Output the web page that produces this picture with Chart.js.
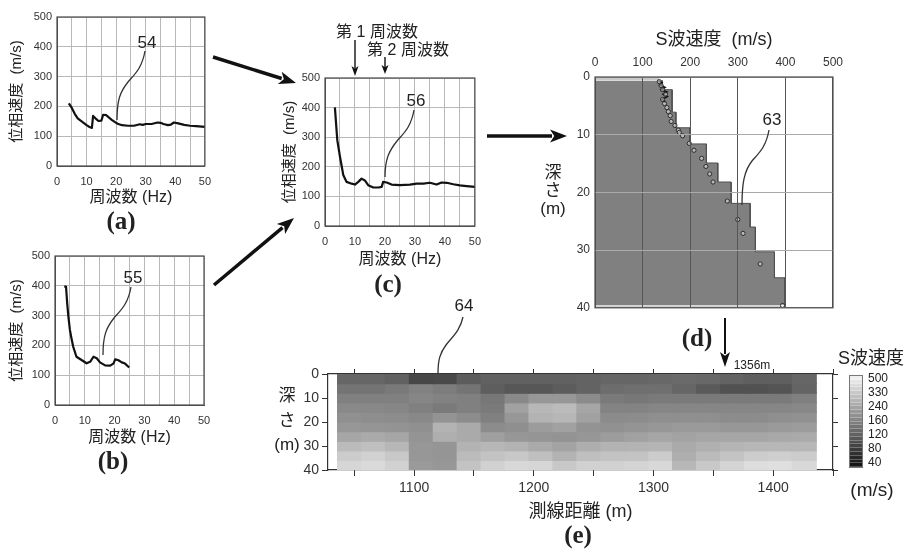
<!DOCTYPE html>
<html>
<head>
<meta charset="utf-8">
<script src="https://cdn.jsdelivr.net/npm/chart.js@4.4.1/dist/chart.umd.min.js"></script>
<style>
  body { margin: 0; background: #fff; }
  #page { position: relative; width: 913px; height: 557px; overflow: hidden;
          font-family: "Liberation Sans", "Noto Sans CJK JP", sans-serif; color: #222; }
  #page canvas { position: absolute; display: block; }
  .t { position: absolute; transform: translate(-50%, -50%); white-space: nowrap; line-height: 1; }
  .lbl { font-family: "Liberation Serif", "DejaVu Serif", serif; font-weight: bold; font-size: 25px; }
  #deco { position: absolute; left: 0; top: 0; }
  #cbar { position: absolute; left: 849px; top: 375px; width: 14px; height: 93px;
          display: flex; flex-direction: column; border: 1px solid #777; box-sizing: border-box; }
  #cbar div { flex: 1; border-bottom: 1px solid rgba(255,255,255,0.25); }
</style>
</head>
<body>
<div id="page">
  <canvas id="chartA" width="220" height="207" style="left:0;top:0"></canvas>
  <canvas id="chartB" width="220" height="207" style="left:0;top:240px"></canvas>
  <canvas id="chartC" width="225" height="209" style="left:265px;top:60px"></canvas>
  <canvas id="chartD" width="290" height="300" style="left:560px;top:20px"></canvas>
  <canvas id="chartE" width="545" height="165" style="left:300px;top:360px"></canvas>

  <svg id="deco" width="913" height="557"></svg>

  <!-- 注記 -->
  <div class="t" style="left:147px;top:42px;font-size:17px">54</div>
  <div class="t" style="left:133px;top:277px;font-size:17px">55</div>
  <div class="t" style="left:416px;top:100px;font-size:17px">56</div>
  <div class="t" style="left:772px;top:119px;font-size:17px">63</div>
  <div class="t" style="left:464px;top:305px;font-size:17px">64</div>
  <div class="t" style="left:752px;top:365px;font-size:12px">1356m</div>
  <div class="t" style="left:377px;top:32px;font-size:16px">第 1 周波数</div>
  <div class="t" style="left:408px;top:50px;font-size:16px">第 2 周波数</div>

  <div class="t lbl" style="left:121px;top:220px">(a)</div>
  <div class="t lbl" style="left:113px;top:460px">(b)</div>
  <div class="t lbl" style="left:388px;top:283px">(c)</div>
  <div class="t lbl" style="left:697px;top:337px">(d)</div>
  <div class="t lbl" style="left:578px;top:534px">(e)</div>

  <div class="t" style="left:553px;top:172px;font-size:17px">深</div>
  <div class="t" style="left:553px;top:190px;font-size:17px">さ</div>
  <div class="t" style="left:553px;top:208px;font-size:17px">(m)</div>

  <div class="t" style="left:287px;top:395px;font-size:17px">深</div>
  <div class="t" style="left:287px;top:420px;font-size:17px">さ</div>
  <div class="t" style="left:287px;top:444px;font-size:17px">(m)</div>

  <div class="t" style="left:871px;top:358px;font-size:18px">S波速度</div>
  <div class="t" style="left:872px;top:489px;font-size:19px">(m/s)</div>
  <div id="cbar"></div>
  <div id="cbarLabels"></div>
</div>

<script>
// ==================== データ ====================

// (a) 分散曲線 54
const freqA = [4, 5, 6, 7, 8, 9, 10, 11, 11.8, 12.2, 13, 14, 15, 15.6, 16.6, 17.5, 18.5, 19.5, 20.5, 22, 24, 26, 28, 29, 30, 32, 34, 35, 36, 37.5, 38.5, 39.5, 41, 43, 45, 47, 50];
const velA = [210, 195, 175, 160, 152, 145, 137, 131, 128, 168, 160, 151, 152, 172, 171, 163, 155, 148, 142, 137, 135, 135, 140, 138, 141, 141, 146, 145, 141, 137, 139, 146, 143, 138, 135, 134, 131];

// (b) 分散曲線 55
const freqB = [3.1, 3.7, 4.1, 4.5, 5.0, 5.5, 6.1, 7.2, 8.9, 10.6, 11.8, 12.9, 14.0, 15.1, 16.8, 18.5, 19.6, 20.2, 21.3, 22.4, 23.5, 24.9];
const velB = [397, 397, 340, 296, 252, 225, 196, 162, 151, 140, 145, 162, 157, 143, 133, 132, 139, 153, 150, 143, 139, 126];

// (c) 合成した分散曲線 56
const freqC = [3.3, 4.1, 5.0, 5.6, 6.1, 7.2, 8.9, 10, 11.1, 12.2, 13.3, 14.4, 16.1, 17.8, 18.9, 19.4, 20.6, 22.2, 25, 28.3, 30.6, 32.8, 35, 37.2, 38.9, 40.6, 42.8, 45, 47.2, 50];
const velC = [401, 290, 234, 200, 172, 149, 143, 140, 149, 160, 154, 138, 130, 130, 132, 149, 147, 140, 138, 140, 143, 143, 146, 140, 147, 146, 141, 137, 135, 132];

// (d) S波速度構造 63
const layerTop = [0.6, 2.2, 6.1, 8.8, 11.6, 14.9, 18.2, 21.9, 26.0, 30.3, 34.8];
const layerVs = [141, 162, 170, 199, 234, 258, 286, 326, 337, 377, 399];
const profileBase = 39.6;
const surfaceVs = 135;
const surfaceDepth = [0, 0.6];
const baseVs = 400;
const baseDepth = [39.6, 40];
const obsVs = [135, 139, 142, 148, 142, 146, 151, 154, 158, 160, 168, 175, 177, 184, 198, 208, 224, 233, 241, 248, 278, 300, 311, 347, 394];
const obsDepth = [0.8, 1.5, 2.2, 3.0, 3.9, 4.6, 5.3, 6.0, 6.7, 7.7, 8.4, 9.2, 9.6, 10.2, 11.5, 12.7, 14.1, 15.5, 16.8, 18.2, 21.5, 24.7, 27.1, 32.4, 39.6];
const traceVs = [133, 141, 136, 147, 139, 151, 143, 152, 141, 148];
const traceDepth = [0.6, 1.0, 1.4, 1.8, 2.2, 2.6, 3.0, 3.4, 3.9, 4.4];

// (e) S波速度断面 64
const distX = [1046, 1066, 1086, 1106, 1126, 1146, 1166, 1186, 1206, 1226, 1246, 1266, 1286, 1306, 1326, 1346, 1366, 1386, 1406, 1426];
const depthTop = [0, 4, 8, 12, 16, 20, 24, 28, 32, 36];
const cellDepth = 4;
const vsSection = [
  [130, 130, 125, 98, 100, 120, 125, 125, 125, 125, 127, 130, 130, 133, 135, 133, 127, 123, 123, 130],
  [145, 145, 150, 160, 155, 145, 122, 115, 115, 120, 127, 138, 140, 140, 130, 118, 108, 108, 112, 128],
  [158, 158, 158, 168, 160, 158, 148, 175, 205, 205, 178, 152, 148, 152, 152, 152, 152, 152, 152, 158],
  [175, 172, 168, 158, 152, 158, 152, 225, 275, 285, 235, 162, 162, 168, 168, 168, 168, 168, 168, 172],
  [190, 185, 180, 172, 195, 182, 158, 205, 265, 275, 225, 178, 182, 188, 188, 188, 182, 182, 188, 192],
  [205, 200, 195, 190, 265, 245, 182, 188, 215, 225, 195, 192, 198, 205, 210, 210, 205, 205, 210, 215],
  [235, 245, 235, 198, 255, 245, 220, 205, 200, 195, 205, 215, 225, 235, 230, 235, 235, 235, 240, 245],
  [285, 295, 275, 205, 200, 265, 275, 265, 245, 230, 255, 265, 265, 270, 245, 260, 270, 275, 275, 275],
  [325, 345, 315, 205, 200, 285, 305, 315, 295, 265, 295, 305, 305, 325, 255, 285, 305, 325, 335, 325],
  [365, 385, 345, 210, 205, 305, 345, 375, 365, 315, 345, 345, 355, 375, 275, 315, 355, 395, 405, 375]
];
const distTicks = [1050, 1100, 1150, 1200, 1250, 1300, 1350, 1400, 1450];

// カラーバーのラベル
const cbLevels = [40, 80, 120, 160, 240, 330, 500];
const cbBands = 24;

// ==================== 共通 ====================

Chart.defaults.font.family = '"Liberation Sans", "Noto Sans CJK JP", sans-serif';
Chart.defaults.color = '#333';

const FONT_TICK = { size: 11 };

// 枠線
const framePlugin = {
  id: 'frame',
  afterDraw(chart) {
    const { ctx, chartArea: a } = chart;
    ctx.save();
    ctx.strokeStyle = '#4a4a4a';
    ctx.lineWidth = 1.2;
    ctx.strokeRect(a.left, a.top, a.right - a.left, a.bottom - a.top);
    ctx.restore();
  }
};

// 速度 -> 濃淡 (カラーバーの目盛は不等間隔)
function velToT(v) {
  if (v <= cbLevels[0]) return 0;
  for (let i = 0; i < cbLevels.length - 1; i++) {
    if (v <= cbLevels[i + 1]) {
      return (i + (v - cbLevels[i]) / (cbLevels[i + 1] - cbLevels[i])) / (cbLevels.length - 1);
    }
  }
  return 1;
}
function grayOf(t) {
  const g = Math.round(16 + t * 228);
  return `rgb(${g},${g},${g})`;
}

// 位相速度グラフ (a)(b)(c)
function dispersionChart(id, freq, vel, box) {
  return new Chart(document.getElementById(id), {
    type: 'line',
    data: {
      datasets: [{
        data: freq.map((f, i) => ({ x: f, y: vel[i] })),
        borderColor: '#111',
        borderWidth: 2.2,
        pointRadius: 0,
        borderJoinStyle: 'round'
      }]
    },
    options: {
      responsive: false,
      animation: false,
      events: [],
      layout: { padding: { top: box.top, right: box.right, left: 0, bottom: 0 } },
      plugins: { legend: { display: false }, tooltip: { enabled: false } },
      scales: {
        x: {
          type: 'linear', min: 0, max: 50,
          ticks: { stepSize: 5, autoSkip: false, maxRotation: 0, padding: 9, font: FONT_TICK,
                   callback: v => (v % 10 === 0 ? v : '') },
          grid: { color: '#b8b8b8', drawTicks: false },
          border: { color: '#555' },
          title: { display: true, text: '周波数 (Hz)', color: '#222', font: { size: 16 }, padding: { top: 0, bottom: 0 } },
          afterFit: s => { s.height = box.xh; }
        },
        y: {
          type: 'linear', min: 0, max: 500,
          ticks: { stepSize: 100, padding: 5, font: FONT_TICK },
          grid: { color: '#b8b8b8', drawTicks: false },
          border: { color: '#555' },
          title: { display: true, text: '位相速度  (m/s)', color: '#222', font: { size: 15 }, padding: { top: box.tp, bottom: 0 } },
          afterFit: s => { s.width = box.yw; }
        }
      }
    },
    plugins: [framePlugin]
  });
}

dispersionChart('chartA', freqA, velA, { top: 17, right: 14, xh: 41, yw: 57, tp: 8 });
dispersionChart('chartB', freqB, velB, { top: 16, right: 16, xh: 42, yw: 55, tp: 8 });
dispersionChart('chartC', freqC, velC, { top: 18, right: 15, xh: 43, yw: 60, tp: 16 });

// ==================== (d) S波速度構造 ====================

const profilePts = [];
layerTop.forEach((d, i) => {
  const next = i < layerTop.length - 1 ? layerTop[i + 1] : profileBase;
  profilePts.push({ x: layerVs[i], y: d }, { x: layerVs[i], y: next });
});

// 先頭のデータセットほど手前に描かれる
new Chart(document.getElementById('chartD'), {
  type: 'line',
  data: {
    datasets: [
      {
        type: 'scatter',
        data: obsVs.map((v, i) => ({ x: v, y: obsDepth[i] })),
        pointRadius: 2.1, borderWidth: 0.9, borderColor: '#222',
        backgroundColor: 'rgba(255,255,255,0.45)'
      },
      {
        data: traceVs.map((v, i) => ({ x: v, y: traceDepth[i] })),
        indexAxis: 'y', borderColor: '#111', borderWidth: 1.6, pointRadius: 0
      },
      {
        data: surfaceDepth.map(d => ({ x: surfaceVs, y: d })),
        indexAxis: 'y', fill: 'origin', backgroundColor: '#c8c8c8',
        borderWidth: 0, pointRadius: 0
      },
      {
        data: profilePts,
        indexAxis: 'y', fill: 'origin', backgroundColor: '#808080',
        borderColor: '#505050', borderWidth: 1, pointRadius: 0
      },
      {
        data: baseDepth.map(d => ({ x: baseVs, y: d })),
        indexAxis: 'y', fill: 'origin', backgroundColor: '#d0d0d0',
        borderWidth: 0, pointRadius: 0
      }
    ]
  },
  options: {
    responsive: false,
    animation: false,
    events: [],
    layout: { padding: { top: 0, right: 15, left: 0, bottom: 6 } },
    plugins: { legend: { display: false }, tooltip: { enabled: false } },
    scales: {
      x: {
        type: 'linear', position: 'top', min: 0, max: 500,
        ticks: { stepSize: 100, padding: 7, font: { size: 12 } },
        grid: { color: '#555', drawTicks: false, z: 1 },
        border: { display: false },
        title: { display: true, text: 'S波速度  (m/s)', color: '#222', font: { size: 18 }, padding: { top: 9, bottom: 0 } },
        afterFit: s => { s.height = 57; }
      },
      y: {
        type: 'linear', reverse: true, min: 0, max: 40,
        ticks: { stepSize: 10, padding: 5, font: { size: 12 } },
        grid: { color: '#aaaaaa', drawTicks: false, z: 1 },
        border: { display: false },
        afterFit: s => { s.width = 35; }
      }
    }
  },
  plugins: [framePlugin]
});

// ==================== (e) S波速度断面 ====================

const sectionSets = depthTop.map((top, r) => ({
  data: distX.map(x => ({ x, y: [top, top + cellDepth] })),
  backgroundColor: vsSection[r].map(v => grayOf(velToT(v))),
  borderWidth: 0,
  inflateAmount: 0.6,
  grouped: false,
  barPercentage: 1,
  categoryPercentage: 1
}));

const setDistTicks = s => { s.ticks = distTicks.map(v => ({ value: v })); };

new Chart(document.getElementById('chartE'), {
  type: 'bar',
  data: { datasets: sectionSets },
  options: {
    responsive: false,
    animation: false,
    events: [],
    layout: { padding: 0 },
    plugins: { legend: { display: false }, tooltip: { enabled: false } },
    scales: {
      x: {
        type: 'linear', offset: false, min: 1028, max: 1450,
        afterBuildTicks: setDistTicks,
        ticks: { autoSkip: false, maxRotation: 0, padding: 4, font: { size: 14 },
                 callback: v => (v % 100 === 0 ? v : '') },
        grid: { offset: false, drawOnChartArea: false, tickLength: 6, color: '#333' },
        border: { color: '#333', width: 1.2 },
        title: { display: true, text: '測線距離 (m)', color: '#222', font: { size: 18 }, padding: { top: 0, bottom: 2 } },
        afterFit: s => { s.height = 55; }
      },
      x2: {
        type: 'linear', position: 'top', offset: false, min: 1028, max: 1450,
        afterBuildTicks: setDistTicks,
        ticks: { callback: () => '' },
        grid: { offset: false, drawOnChartArea: false, tickLength: 5, color: '#333' },
        border: { color: '#333', width: 1.2 },
        afterFit: s => { s.height = 14; }
      },
      y: {
        type: 'linear', reverse: true, min: 0, max: 40,
        ticks: { stepSize: 10, padding: 3, font: { size: 14 } },
        grid: { drawOnChartArea: false, tickLength: 6, color: '#333' },
        border: { color: '#333', width: 1.2 },
        afterFit: s => { s.width = 28; }
      },
      y2: {
        type: 'linear', position: 'right', reverse: true, min: 0, max: 40,
        ticks: { stepSize: 10, callback: () => '' },
        grid: { drawOnChartArea: false, tickLength: 5, color: '#333' },
        border: { color: '#333', width: 1.2 },
        afterFit: s => { s.width = 12; }
      }
    }
  }
});

// ==================== カラーバー ====================

const cbar = document.getElementById('cbar');
for (let i = cbBands - 1; i >= 0; i--) {
  const band = document.createElement('div');
  band.style.background = grayOf((i + 0.5) / cbBands);
  cbar.appendChild(band);
}
const cbLabels = document.getElementById('cbarLabels');
cbLevels.forEach((v, i) => {
  const el = document.createElement('div');
  el.className = 't';
  el.style.left = '868px';
  el.style.transform = 'translate(0,-50%)';
  el.style.top = (462 - i * 14) + 'px';
  el.style.fontSize = '12px';
  el.textContent = v;
  cbLabels.appendChild(el);
});

// ==================== 矢印・引出線 ====================

const svg = document.getElementById('deco');
const NS = 'http://www.w3.org/2000/svg';

function arrow(x1, y1, x2, y2, w, hl, hw) {
  const dx = x2 - x1, dy = y2 - y1;
  const len = Math.hypot(dx, dy);
  const ux = dx / len, uy = dy / len;
  const bx = x2 - ux * hl, by = y2 - uy * hl;
  const line = document.createElementNS(NS, 'line');
  line.setAttribute('x1', x1); line.setAttribute('y1', y1);
  line.setAttribute('x2', bx + ux * 2); line.setAttribute('y2', by + uy * 2);
  line.setAttribute('stroke', '#111'); line.setAttribute('stroke-width', w);
  svg.appendChild(line);
  const head = document.createElementNS(NS, 'polygon');
  const pts = [[x2, y2], [bx - uy * hw / 2, by + ux * hw / 2], [bx + ux * hl * 0.25, by + uy * hl * 0.25], [bx + uy * hw / 2, by - ux * hw / 2]];
  head.setAttribute('points', pts.map(p => p.join(',')).join(' '));
  head.setAttribute('fill', '#111');
  svg.appendChild(head);
}

function leader(d) {
  const p = document.createElementNS(NS, 'path');
  p.setAttribute('d', d);
  p.setAttribute('fill', 'none');
  p.setAttribute('stroke', '#333');
  p.setAttribute('stroke-width', 1.3);
  svg.appendChild(p);
}

arrow(213, 57, 296, 83, 3.5, 17, 13);
arrow(214, 285, 294, 218, 3.5, 17, 13);
arrow(487, 136, 567, 136, 3.5, 17, 13);
arrow(725, 318, 725, 367, 2, 15, 10);
arrow(355, 40, 355, 76, 1.4, 10, 7);
arrow(385, 57, 385, 74, 1.4, 9, 7);

leader('M145,51 C142,68 135,74 128,82 C120,92 117,100 117,120');
leader('M131,287 C128,304 121,310 114,318 C106,328 103,336 103,355');
leader('M414,110 C411,127 404,133 397,141 C389,151 385,159 385,177');
leader('M769,130 C766,147 759,153 752,161 C744,171 742,184 742,205');
leader('M463,317 C460,331 452,337 446,345 C440,353 438,360 438,373');
</script>
</body>
</html>
